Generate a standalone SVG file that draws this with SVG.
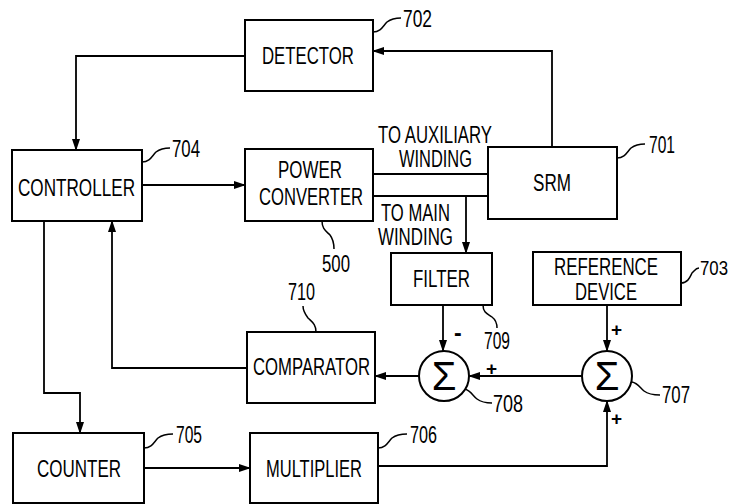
<svg xmlns="http://www.w3.org/2000/svg" width="738" height="504" viewBox="0 0 738 504">
<style>
.box{fill:#fff;stroke:#000;stroke-width:2}
.ln{fill:none;stroke:#000;stroke-width:1.8}
.ld{fill:none;stroke:#000;stroke-width:1.5}
text{font-family:"Liberation Sans",Arial,sans-serif;font-size:23px;fill:#000}
.sg{font-size:40px}
.pm{font-size:19px;font-weight:bold}
.sm{font-size:20px}
</style>
<defs>
<marker id="ah" markerUnits="userSpaceOnUse" markerWidth="12" markerHeight="8" refX="11" refY="4" orient="auto">
<path d="M0,0 L12,4 L0,8 z" fill="#000"/>
</marker>
</defs>
<rect width="738" height="504" fill="#fff"/>
<g id="connectors">
<path class="ln" d="M244,56 H76 V150" marker-end="url(#ah)"/>
<path class="ln" d="M552,147 V51 H373" marker-end="url(#ah)"/>
<path class="ln" d="M142,185 H245" marker-end="url(#ah)"/>
<path class="ln" d="M373,174 H488"/>
<path class="ln" d="M373,196 H488"/>
<path class="ln" d="M466,196 V253" marker-end="url(#ah)"/>
<path class="ln" d="M443,305 V351" marker-end="url(#ah)"/>
<path class="ln" d="M607,305 V351" marker-end="url(#ah)"/>
<path class="ln" d="M582,376 H469" marker-end="url(#ah)"/>
<path class="ln" d="M419,376 H375" marker-end="url(#ah)"/>
<path class="ln" d="M247,368 H112 V221" marker-end="url(#ah)"/>
<path class="ln" d="M44,221 V393 H80 V433" marker-end="url(#ah)"/>
<path class="ln" d="M144,468 H250" marker-end="url(#ah)"/>
<path class="ln" d="M378,466 H607 V401" marker-end="url(#ah)"/>
<text x="378" y="143" textLength="114" lengthAdjust="spacingAndGlyphs">TO AUXILIARY</text>
<text x="399" y="167" textLength="73" lengthAdjust="spacingAndGlyphs">WINDING</text>
<text x="381" y="221" textLength="69" lengthAdjust="spacingAndGlyphs">TO MAIN</text>
<text x="378" y="245" textLength="75" lengthAdjust="spacingAndGlyphs">WINDING</text>
<text x="454" y="341" font-weight="bold">-</text>
<text class="pm" x="611" y="336">+</text>
<text class="pm" x="486" y="375">+</text>
<text class="pm" x="611" y="425">+</text>
</g>
<g id="detector">
<rect class="box" x="245" y="20" width="128" height="71"/>
<text x="262" y="64" textLength="92" lengthAdjust="spacingAndGlyphs">DETECTOR</text>
<path class="ld" d="M373,32 c8,0 10,-6 14,-10 c4,-3 8,-4 14,-4"/>
<text x="403" y="27" textLength="29" lengthAdjust="spacingAndGlyphs">702</text>
</g>
<g id="controller">
<rect class="box" x="12" y="150" width="130" height="71"/>
<text x="18" y="196" textLength="117" lengthAdjust="spacingAndGlyphs">CONTROLLER</text>
<path class="ld" d="M142,162 c8,0 10,-6 14,-10 c4,-3 8,-4 14,-4"/>
<text x="172" y="157" textLength="28" lengthAdjust="spacingAndGlyphs">704</text>
</g>
<g id="power-converter">
<rect class="box" x="245" y="149" width="128" height="72"/>
<text x="278" y="178" textLength="64" lengthAdjust="spacingAndGlyphs">POWER</text>
<text x="259" y="205" textLength="104" lengthAdjust="spacingAndGlyphs">CONVERTER</text>
<path class="ld" d="M322,221 c0,8 4,10 8,14 c3,4 4,8 4,14"/>
<text x="322" y="272" textLength="28" lengthAdjust="spacingAndGlyphs">500</text>
</g>
<g id="srm">
<rect class="box" x="488" y="147" width="129" height="72"/>
<text x="533" y="191" textLength="38" lengthAdjust="spacingAndGlyphs">SRM</text>
<path class="ld" d="M617,158 c8,0 10,-6 14,-10 c4,-3 8,-4 14,-4"/>
<text x="649" y="153" textLength="26" lengthAdjust="spacingAndGlyphs">701</text>
</g>
<g id="filter">
<rect class="box" x="391" y="253" width="101" height="52"/>
<text x="413" y="287" textLength="57" lengthAdjust="spacingAndGlyphs">FILTER</text>
<path class="ld" d="M483,305 c0,8 5,9 9,12 c4,3 5,7 5,11"/>
<text x="484" y="349" textLength="26" lengthAdjust="spacingAndGlyphs">709</text>
</g>
<g id="reference-device">
<rect class="box" x="533" y="252" width="148" height="53"/>
<text x="554" y="275" textLength="104" lengthAdjust="spacingAndGlyphs">REFERENCE</text>
<text x="575" y="300" textLength="62" lengthAdjust="spacingAndGlyphs">DEVICE</text>
<path class="ld" d="M681,283 c7,0 9,-6 11,-10 c3,-3 4,-5 7,-5"/>
<text class="sm" x="700" y="275" textLength="28" lengthAdjust="spacingAndGlyphs">703</text>
</g>
<g id="sum-708">
<circle class="box" cx="444" cy="376" r="25"/>
<text class="sg" x="444" y="390" text-anchor="middle">Σ</text>
<path class="ld" d="M465,389 c6,2 8,7 12,10 c4,3 8,4 15,4"/>
<text x="493" y="412" textLength="30" lengthAdjust="spacingAndGlyphs">708</text>
</g>
<g id="sum-707">
<circle class="box" cx="607" cy="376" r="25"/>
<text class="sg" x="607" y="390" text-anchor="middle">Σ</text>
<path class="ld" d="M632,382 c6,1 8,6 12,9 c4,3 8,4 16,4"/>
<text x="662" y="403" textLength="28" lengthAdjust="spacingAndGlyphs">707</text>
</g>
<g id="comparator">
<rect class="box" x="247" y="332" width="128" height="71"/>
<text x="253" y="375" textLength="117" lengthAdjust="spacingAndGlyphs">COMPARATOR</text>
<path class="ld" d="M316,332 c0,-8 -4,-10 -8,-14 c-3,-4 -5,-7 -5,-12"/>
<text x="288" y="300" textLength="27" lengthAdjust="spacingAndGlyphs">710</text>
</g>
<g id="counter">
<rect class="box" x="13" y="433" width="131" height="70"/>
<text x="37" y="477" textLength="84" lengthAdjust="spacingAndGlyphs">COUNTER</text>
<path class="ld" d="M144,448 c8,0 10,-6 14,-10 c4,-3 8,-4 15,-4"/>
<text x="176" y="443" textLength="26" lengthAdjust="spacingAndGlyphs">705</text>
</g>
<g id="multiplier">
<rect class="box" x="250" y="433" width="128" height="70"/>
<text x="266" y="477" textLength="96" lengthAdjust="spacingAndGlyphs">MULTIPLIER</text>
<path class="ld" d="M378,448 c8,0 10,-6 14,-10 c4,-3 8,-4 15,-4"/>
<text x="410" y="443" textLength="27" lengthAdjust="spacingAndGlyphs">706</text>
</g>
</svg>
